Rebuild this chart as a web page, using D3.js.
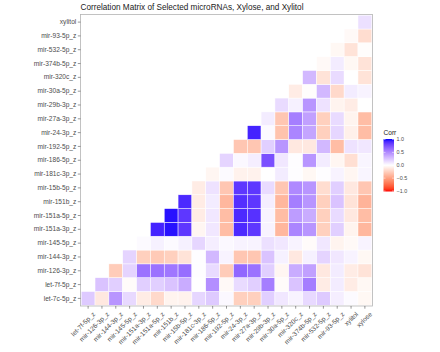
<!DOCTYPE html>
<html>
<head>
<meta charset="utf-8">
<script src="https://cdn.jsdelivr.net/npm/d3@7"></script>
<style>
  body { margin: 0; background: #fff; }
  text { font-family: "Liberation Sans", Arial, sans-serif; }
</style>
</head>
<body>
<div id="chart"></div>
<script>
// Constants for sizing
const width = 440;
const height = 352;
const panel = {left: 80.5, right: 372.5, top: 14.5, bottom: 306};

// Variable names (rows bottom -> top, columns left -> right)
const yLabels = ["let-7c-5p_z", "let-7f-5p_z", "mir-126-3p_z", "mir-144-3p_z", "mir-145-5p_z",
  "mir-151a-3p_z", "mir-151a-5p_z", "mir-151b_z", "mir-15b-5p_z", "mir-181c-3p_z", "mir-186-5p_z",
  "mir-192-5p_z", "mir-24-3p_z", "mir-27a-3p_z", "mir-29b-3p_z", "mir-30a-5p_z", "mir-320c_z",
  "mir-374b-5p_z", "mir-532-5p_z", "mir-93-5p_z", "xylitol"];
const xLabels = ["let-7f-5p_z", "mir-126-3p_z", "mir-144-3p_z", "mir-145-5p_z", "mir-151a-3p_z",
  "mir-151a-5p_z", "mir-151b_z", "mir-15b-5p_z", "mir-181c-3p_z", "mir-186-5p_z", "mir-192-5p_z",
  "mir-24-3p_z", "mir-27a-3p_z", "mir-29b-3p_z", "mir-30a-5p_z", "mir-320c_z", "mir-374b-5p_z",
  "mir-532-5p_z", "mir-93-5p_z", "xylitol", "xylose"];

// Correlations: row i holds the values for columns i..20
const corrRows = [
  [0.22, -0.12, 0.45, 0.16, -0.10, -0.20, -0.06, -0.07, 0.17, 0.22, 0.03, -0.25, -0.25, 0.20, 0.10, 0.05, 0.16, 0.22, 0.07, 0.02, -0.04],
  [0.25, 0.20, -0.02, 0.20, 0.20, 0.25, 0.35, 0.00, 0.48, -0.03, 0.15, 0.20, 0.55, -0.02, 0.25, 0.55, -0.10, 0.08, -0.10, -0.04],
  [-0.27, 0.18, 0.60, 0.60, 0.58, 0.62, 0.01, 0.15, -0.27, 0.65, 0.60, 0.20, -0.05, 0.35, 0.40, -0.12, 0.08, -0.10, -0.15],
  [0.18, -0.25, -0.28, -0.25, -0.15, 0.01, 0.30, 0.05, -0.30, -0.30, 0.25, 0.06, -0.12, 0.06, 0.18, 0.10, 0.05, -0.04],
  [0.02, 0.06, 0.02, 0.06, 0.17, 0.07, 0.03, 0.05, 0.05, 0.13, 0.10, 0.05, -0.02, 0.10, -0.06, -0.03, 0.05],
  [0.92, 0.97, 0.85, -0.05, 0.10, -0.35, 0.90, 0.85, 0.05, -0.38, 0.52, 0.45, -0.25, 0.20, -0.06, -0.38],
  [0.97, 0.85, -0.10, 0.10, -0.35, 0.90, 0.87, 0.05, -0.35, 0.42, 0.35, -0.25, 0.15, -0.12, -0.35],
  [0.90, -0.10, 0.08, -0.38, 0.88, 0.85, 0.07, -0.38, 0.55, 0.45, -0.25, 0.25, -0.15, -0.40],
  [-0.10, 0.12, -0.30, 0.85, 0.85, 0.15, -0.30, 0.50, 0.45, -0.18, 0.20, -0.12, -0.30],
  [-0.05, 0.02, -0.07, -0.07, 0.00, 0.08, 0.01, -0.04, 0.01, 0.05, -0.05, 0.04],
  [0.18, 0.03, 0.07, 0.75, 0.10, 0.01, 0.45, 0.08, -0.05, -0.17, 0.04],
  [-0.30, -0.30, 0.20, 0.45, -0.12, -0.12, 0.30, -0.35, 0.12, 0.10],
  [0.92, 0.02, -0.32, 0.52, 0.38, -0.25, 0.17, -0.08, -0.35],
  [0.08, -0.30, 0.55, 0.40, -0.25, 0.15, -0.06, -0.35],
  [0.15, 0.06, 0.45, 0.12, -0.06, -0.10, 0.00],
  [-0.10, -0.01, 0.30, -0.20, 0.08, 0.05],
  [0.30, -0.15, 0.15, 0.00, -0.15],
  [-0.03, 0.08, -0.04, -0.15],
  [-0.04, -0.15, -0.01],
  [-0.03, -0.18],
  [0.13]
];
const legendTicks = [-1, -0.5, 0, 0.5, 1];

// flatten into tiles
let tiles = [];
corrRows.forEach(function(row, i) {
  row.forEach(function(v, k) {
    tiles.push({row: yLabels[i], col: xLabels[i + k], value: v});
  });
});

let svg = d3.select("#chart").append("svg")
            .attr("width", width)
            .attr("height", height);

let x = d3.scaleBand().domain(xLabels)
          .range([panel.left, panel.right]).paddingOuter(0.05).paddingInner(0);
let y = d3.scaleBand().domain(yLabels)
          .range([panel.bottom, panel.top]).paddingOuter(0.05).paddingInner(0);
let color = d3.scaleLinear().domain([-1, 0, 1])
              .range(["red", "white", "blue"])
              .interpolate(d3.interpolateLab);

// tiles
svg.append("g").selectAll("rect")
   .data(tiles)
   .enter().append("rect")
   .attr("x", function(d) { return x(d.col); })
   .attr("y", function(d) { return y(d.row); })
   .attr("width", x.bandwidth())
   .attr("height", y.bandwidth())
   .attr("fill", function(d) { return color(d.value); })
   .attr("stroke", "white")
   .attr("stroke-width", 0.5);

// panel border
svg.append("rect")
   .attr("x", panel.left).attr("y", panel.top)
   .attr("width", panel.right - panel.left)
   .attr("height", panel.bottom - panel.top)
   .attr("fill", "none")
   .attr("stroke", "#b3b3b3")
   .attr("stroke-width", 0.8);

// y axis
let yAxis = svg.append("g")
   .attr("transform", "translate(" + panel.left + ",0)")
   .call(d3.axisLeft(y).tickSize(2.7).tickPadding(1.5));
yAxis.select(".domain").remove();
yAxis.selectAll("line").attr("stroke", "#333").attr("stroke-width", 0.5);
yAxis.selectAll("text").attr("fill", "#4d4d4d").style("font-size", "6.6px")
     .style("font-family", "Liberation Sans, Arial, sans-serif");

// x axis
let xAxis = svg.append("g")
   .attr("transform", "translate(0," + panel.bottom + ")")
   .call(d3.axisBottom(x).tickSize(2.7).tickPadding(1.5));
xAxis.select(".domain").remove();
xAxis.selectAll("line").attr("stroke", "#333").attr("stroke-width", 0.5);
xAxis.selectAll("text")
     .attr("fill", "#4d4d4d").style("font-size", "6.6px")
     .style("font-family", "Liberation Sans, Arial, sans-serif")
     .attr("text-anchor", "end")
     .attr("dy", "0.35em")
     .attr("transform", "translate(3,4) rotate(-45)");

// title
svg.append("text")
   .attr("x", 80.5).attr("y", 10)
   .style("font-size", "8.2px")
   .attr("fill", "#1a1a1a")
   .text("Correlation Matrix of Selected microRNAs, Xylose, and Xylitol");

// legend
const lg = {x: 383.5, top: 139, bottom: 191.5, w: 10.5};
let defs = svg.append("defs");
let grad = defs.append("linearGradient").attr("id", "corrgrad")
               .attr("x1", 0).attr("x2", 0).attr("y1", 1).attr("y2", 0);
d3.range(0, 1.0001, 0.05).forEach(function(t) {
  grad.append("stop").attr("offset", t).attr("stop-color", color(-1 + 2 * t));
});
svg.append("text")
   .attr("x", lg.x).attr("y", 135)
   .style("font-size", "6.6px").attr("fill", "#1a1a1a")
   .text("Corr");
svg.append("rect")
   .attr("x", lg.x).attr("y", lg.top)
   .attr("width", lg.w).attr("height", lg.bottom - lg.top)
   .attr("fill", "url(#corrgrad)");
let ly = d3.scaleLinear().domain([-1, 1]).range([lg.bottom - 0.5, lg.top + 0.5]);
legendTicks.forEach(function(t) {
  svg.append("line")
     .attr("x1", lg.x).attr("x2", lg.x + 2)
     .attr("y1", ly(t)).attr("y2", ly(t))
     .attr("stroke", "white").attr("stroke-width", 0.5);
  svg.append("line")
     .attr("x1", lg.x + lg.w - 2).attr("x2", lg.x + lg.w)
     .attr("y1", ly(t)).attr("y2", ly(t))
     .attr("stroke", "white").attr("stroke-width", 0.5);
  svg.append("text")
     .attr("x", lg.x + lg.w + 2.5).attr("y", ly(t))
     .attr("dy", "0.35em")
     .style("font-size", "5.4px").attr("fill", "#4d4d4d")
     .text(d3.format(".1f")(t));
});
</script>
</body>
</html>
